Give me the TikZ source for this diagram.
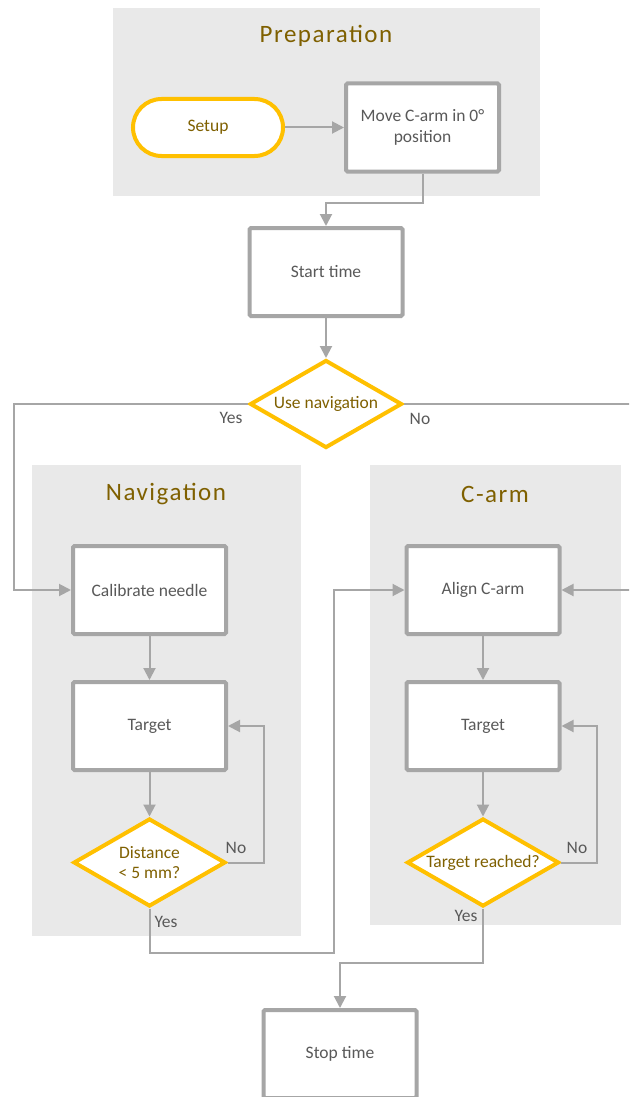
\documentclass[tikz,border=0pt]{standalone}
\usepackage{fontspec}
\setmainfont{Carlito}
\newfontfamily\titlefont[LetterSpace=6]{Carlito}
\usetikzlibrary{shapes.geometric,shapes.misc,arrows.meta}
\definecolor{panelgray}{HTML}{E9E9E9}
\definecolor{linegray}{HTML}{A6A6A6}
\definecolor{flowyellow}{HTML}{FFC000}
\definecolor{titlegold}{HTML}{7F6000}
\definecolor{textgray}{HTML}{595959}
\tikzset{
  panel/.style={fill=panelgray, draw=none},
  paneltitle/.style={font=\titlefont\fontsize{25}{30}\selectfont, text=titlegold},
  procbox/.style={draw=linegray, line width=4pt, fill=white, rounded corners=1.5pt,
    minimum width=153pt, minimum height=88pt, inner sep=0pt, align=center,
    text=textgray, font=\fontsize{17.5}{20.5}\selectfont},
  decision/.style={diamond, shape aspect=1.73, draw=flowyellow, line width=4pt, fill=white,
    minimum width=152pt, minimum height=88pt, inner sep=0pt, align=center,
    text=titlegold, font=\fontsize{17.5}{20.5}\selectfont},
  terminator/.style={rounded rectangle, draw=flowyellow, line width=4pt, fill=white,
    minimum width=150pt, minimum height=57pt, inner sep=0pt,
    text=titlegold, font=\fontsize{17.5}{20.5}\selectfont},
  conn/.style={draw=linegray, line width=2pt},
  arr/.style={conn, -{Triangle[length=12pt,width=12pt]}},
  lbl/.style={text=textgray, font=\fontsize{17.5}{20.5}\selectfont, inner sep=0pt},
}
\begin{document}
\begin{tikzpicture}[x=1pt,y=-1pt]
\clip (0,0) rectangle (629,1097);
\fill[white] (0,0) rectangle (629,1097);
% panels
\path[panel] (113,8) rectangle (540,196);
\path[panel] (32,465) rectangle (301,936);
\path[panel] (370,465) rectangle (621,925);
\node[paneltitle] (tprep) at (326,36) {Preparation};
\node[paneltitle] (tnav) at (166,494) {Navigation};
\node[paneltitle] (tcarm) at (495,494) {C-arm};
% nodes
\node[terminator] (setup) at (208,127.5) {Setup};
\node[procbox] (move) at (422.5,127.5) {Move C-arm in 0°\\position};
\node[procbox] (start) at (326,272) {Start time};
\node[decision] (usenav) at (326,404) {Use navigation};
\node[procbox] (calib) at (149.5,590) {Calibrate needle};
\node[procbox] (tgtnav) at (149.5,726) {Target};
\node[decision] (dist) at (149.5,862.5) {Distance\\< 5 mm?};
\node[procbox] (align) at (483,590) {Align C-arm};
\node[procbox] (tgtcarm) at (483,726) {Target};
\node[decision] (reach) at (483,862.5) {Target reached?};
\node[procbox] (stop) at (340,1054) {Stop time};
% coordinates
\coordinate (mvdn) at (422.5,203);
\coordinate (yesleft) at (14,404);
\coordinate (noright) at (645,404);
\coordinate (noright2) at (645,590);
\coordinate (navloop) at (264,862.5);
\coordinate (carmloop) at (597,862.5);
\coordinate (navyes) at (334,953);
\coordinate (carmyes) at (340,963);
% connectors
\draw[arr] (setup.east) -- (move.west);
\draw[arr] (move.south) -- (mvdn) -| (start.north);
\draw[arr] (start.south) -- (usenav.north);
\draw[arr] (usenav.west) -- (yesleft) |- (calib.west);
\draw[arr] (usenav.east) -- (noright) -- (noright2) -- (align.east);
\draw[arr] (calib.south) -- (tgtnav.north);
\draw[arr] (tgtnav.south) -- (dist.north);
\draw[arr] (dist.east) -- (navloop) |- (tgtnav.east);
\draw[arr] (dist.south) |- (navyes) |- (align.west);
\draw[arr] (align.south) -- (tgtcarm.north);
\draw[arr] (tgtcarm.south) -- (reach.north);
\draw[arr] (reach.east) -- (carmloop) |- (tgtcarm.east);
\draw[arr] (reach.south) |- (carmyes) -- (stop.north);
% labels
\node[lbl] (lyes1) at (231,418) {Yes};
\node[lbl] (lno1) at (420,419) {No};
\node[lbl] (lno2) at (236,848) {No};
\node[lbl] (lyes2) at (166,922) {Yes};
\node[lbl] (lno3) at (577,848) {No};
\node[lbl] (lyes3) at (466,916) {Yes};
\end{tikzpicture}
\end{document}
